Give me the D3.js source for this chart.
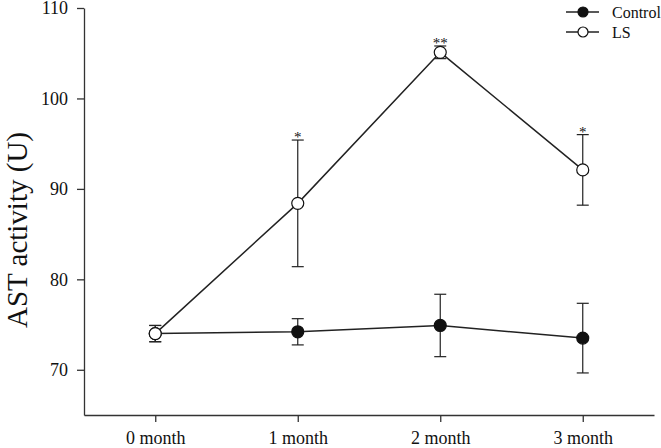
<!DOCTYPE html>
<html lang="en">
<head>
<meta charset="utf-8">
<script src="https://d3js.org/d3.v7.min.js"></script>
<style>
body { margin: 0; background: #fff; }
svg text { font-family: "Liberation Serif", "Times New Roman", serif !important; fill: #111; }
</style>
</head>
<body>
<script>
// data
var months = ["0 month", "1 month", "2 month", "3 month"];
var controlMean = [74.0, 74.2, 74.9, 73.5];
var controlErr = [0.9, 1.45, 3.45, 3.85];
var lsMean = [74.0, 88.4, 105.1, 92.1];
var lsErr = [0.9, 7.0, 0.7, 3.9];
var lsStars = ["", "*", "**", "*"];
var yTicks = [70, 80, 90, 100, 110];

var width = 661, height = 448;
var svg = d3.select("body").append("svg")
    .attr("width", width).attr("height", height);

var x = d3.scalePoint().domain(months).range([84, 654]).padding(0.5);
var y = d3.scaleLinear().domain([65, 110]).range([415, 8]);

// axes
var xAxis = svg.append("g")
    .attr("transform", "translate(0,415)")
    .call(d3.axisBottom(x).tickSize(7).tickPadding(9).tickSizeOuter(0));
var yAxis = svg.append("g")
    .attr("transform", "translate(84,0)")
    .call(d3.axisLeft(y).tickValues(yTicks).tickSize(7).tickPadding(9).tickSizeOuter(0));
[xAxis, yAxis].forEach(function(a) {
  a.attr("font-family", null).attr("font-size", null);
  a.selectAll("text").style("font-size", "18px").attr("fill", "#111");
  a.selectAll("line, path").attr("stroke", "#333").attr("stroke-width", 1.3);
});

svg.append("text")
    .attr("transform", "translate(27,230) rotate(-90)")
    .attr("text-anchor", "middle")
    .style("font-size", "29px")
    .text("AST activity (U)");

var line = d3.line()
    .x(function(d, i) { return x(months[i]); })
    .y(function(d) { return y(d); });

function drawSeries(mean, err, fill) {
  var g = svg.append("g");
  g.append("path").datum(mean)
      .attr("d", line).attr("fill", "none")
      .attr("stroke", "#222").attr("stroke-width", 1.5);
  mean.forEach(function(m, i) {
    var cx = x(months[i]);
    g.append("line").attr("x1", cx).attr("x2", cx)
        .attr("y1", y(m - err[i])).attr("y2", y(m + err[i]))
        .attr("stroke", "#222").attr("stroke-width", 1.2);
    [m - err[i], m + err[i]].forEach(function(v) {
      g.append("line").attr("x1", cx - 6).attr("x2", cx + 6)
          .attr("y1", y(v)).attr("y2", y(v))
          .attr("stroke", "#222").attr("stroke-width", 1.2);
    });
  });
  g.selectAll("circle").data(mean).enter().append("circle")
      .attr("cx", function(d, i) { return x(months[i]); })
      .attr("cy", function(d) { return y(d); })
      .attr("r", 6)
      .attr("fill", fill).attr("stroke", "#111").attr("stroke-width", 1.2);
}

drawSeries(controlMean, controlErr, "#111");
drawSeries(lsMean, lsErr, "#fff");

// significance marks
svg.selectAll("text.star").data(lsStars).enter().append("text")
    .attr("class", "star")
    .attr("x", function(d, i) { return x(months[i]); })
    .attr("y", function(d, i) { return y(lsMean[i] + lsErr[i]) + 2; })
    .attr("text-anchor", "middle")
    .attr("fill", "#111")
    .style("font-size", "15px")
    .text(function(d) { return d; });

// legend
var legendItems = [{name: "Control", fill: "#111"}, {name: "LS", fill: "#fff"}];
var legend = svg.selectAll("g.legend").data(legendItems).enter().append("g")
    .attr("class", "legend")
    .attr("transform", function(d, i) { return "translate(566," + (12 + i * 20) + ")"; });
legend.append("line").attr("x1", 0).attr("x2", 33)
    .attr("stroke", "#222").attr("stroke-width", 1.5);
legend.append("circle").attr("cx", 17).attr("r", 5)
    .attr("fill", function(d) { return d.fill; })
    .attr("stroke", "#111").attr("stroke-width", 1.2);
legend.append("text").attr("x", 46).attr("dy", "0.35em")
    .style("font-size", "16px")
    .text(function(d) { return d.name; });
</script>
</body>
</html>
